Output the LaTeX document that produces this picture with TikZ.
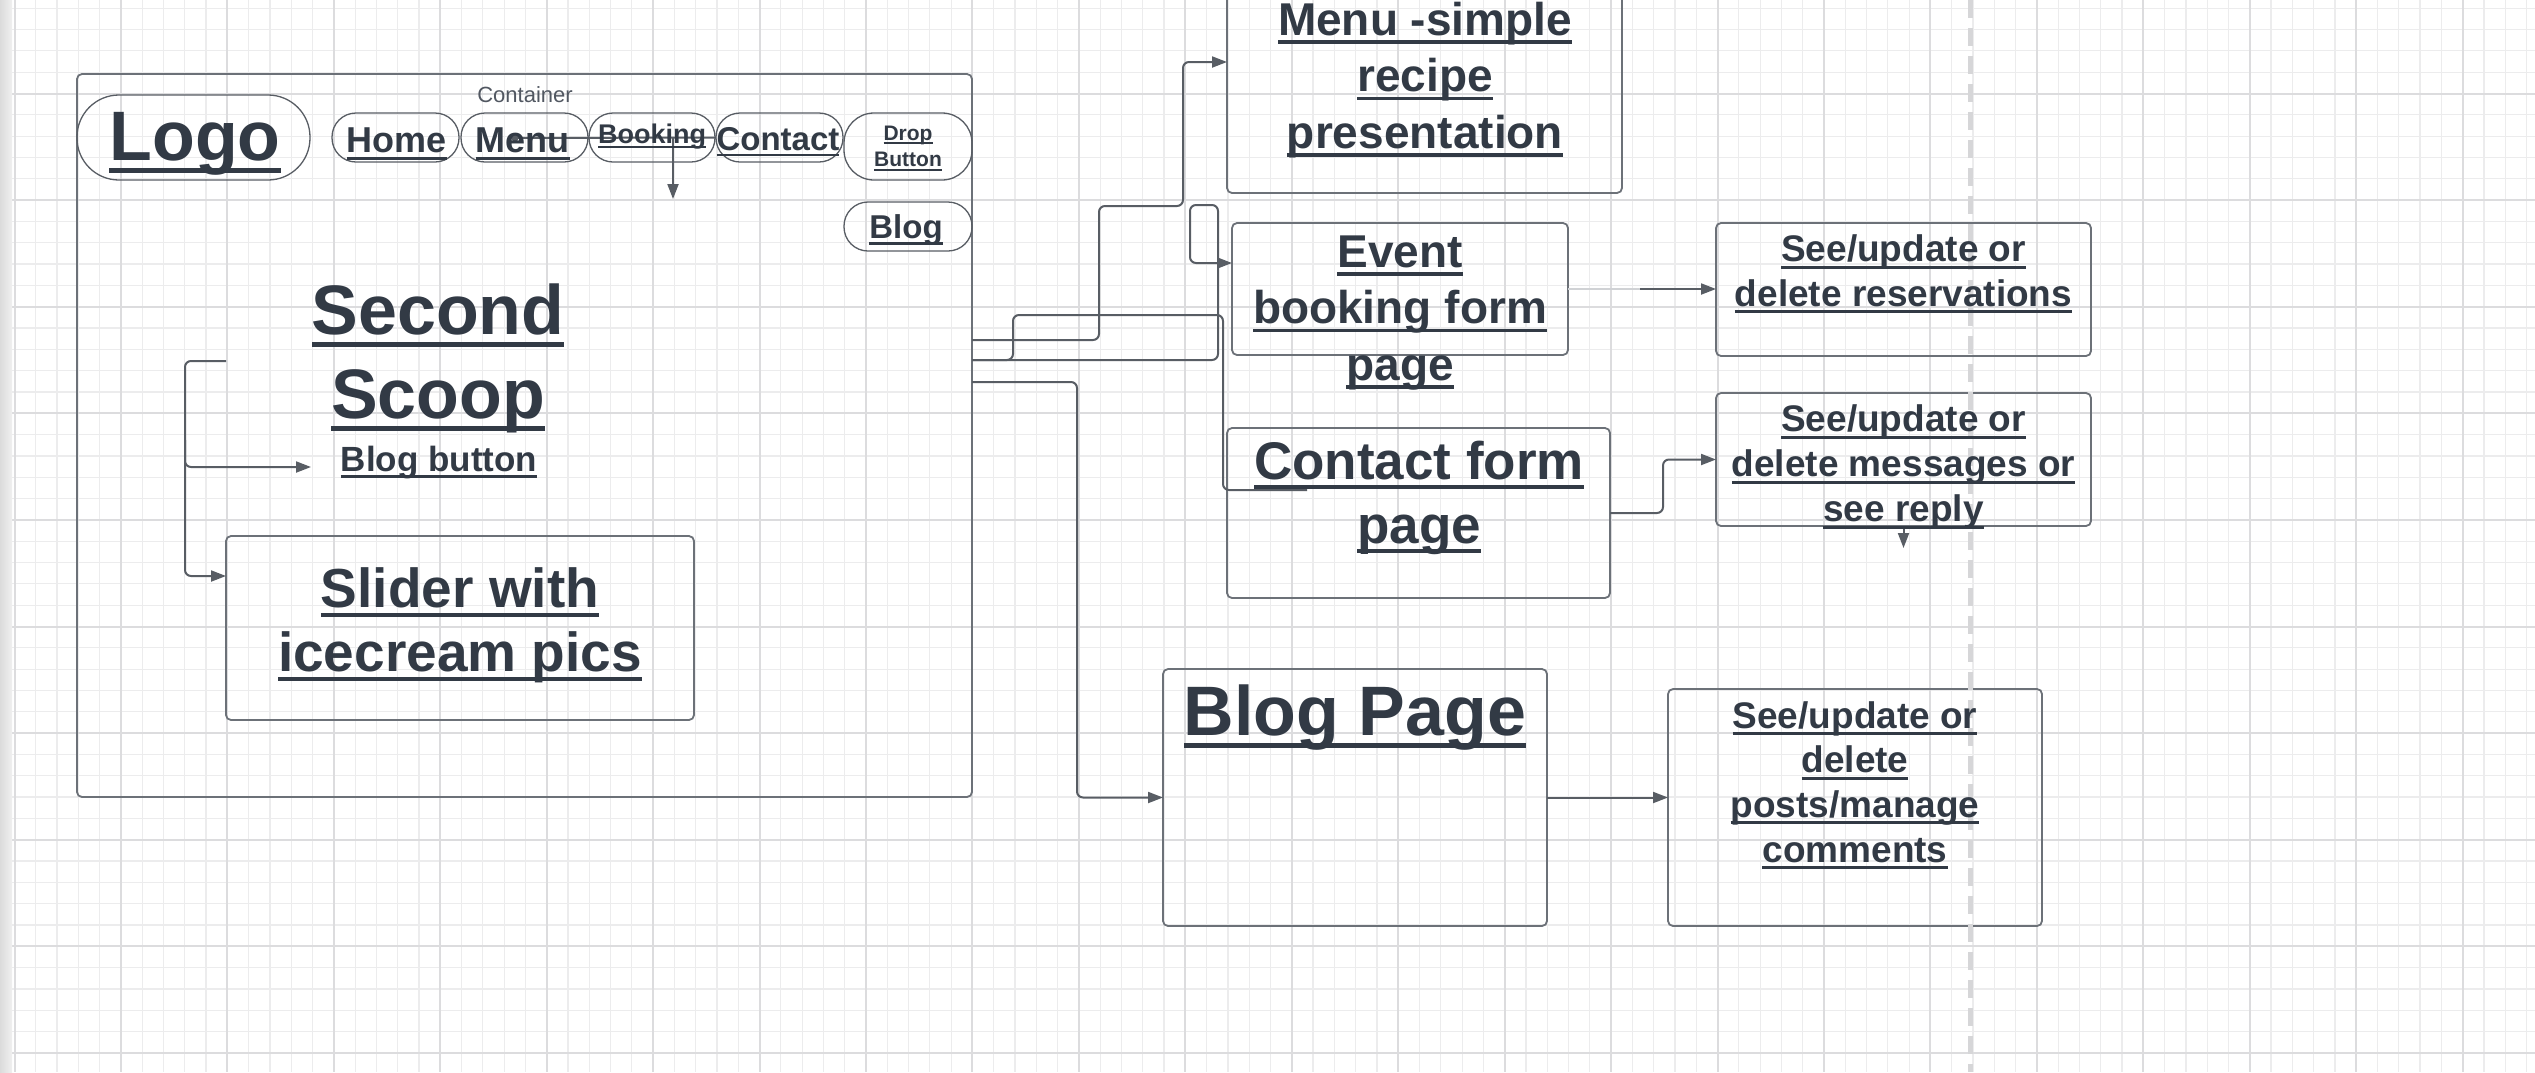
\documentclass[tikz,border=0pt]{standalone}
\usepackage{fontspec}
\setmainfont{Liberation Sans}
\usetikzlibrary{arrows.meta}
\definecolor{txt}{RGB}{50,58,69}
\definecolor{bord}{RGB}{108,113,120}
\definecolor{conn}{RGB}{88,93,100}
\definecolor{gmin}{RGB}{236,236,237}
\definecolor{gmaj}{RGB}{220,220,222}
\definecolor{dashc}{RGB}{214,214,216}
\definecolor{lightw}{RGB}{208,210,213}
\newbox\ulbox
\newcommand\myul[1]{\setbox\ulbox=\hbox{#1}\rlap{\rule[-0.19em]{\wd\ulbox}{0.08em}}\box\ulbox}
\newcommand\mlines[1]{\vtop{\halign{\hfil##\hfil\cr#1\crcr}}}
\newcommand\fs[2]{\fontsize{#1}{#2}\selectfont}
\tikzset{
  boxs/.style={draw=bord, line width=1.8pt, rounded corners=5pt, inner sep=0pt, outer sep=0pt},
  pill/.style={draw=conn, line width=1.3pt, inner sep=0pt, outer sep=0pt},
  lbl/.style={text=txt, inner sep=0pt, outer sep=0pt, anchor=base, font=\bfseries},
  wire/.style={draw=conn, line width=2pt, rounded corners=6pt},
  arr/.style={wire, -{Triangle[length=15pt,width=11pt]}},
}
\begin{document}
\begin{tikzpicture}[x=1pt,y=-1pt]
\useasboundingbox (0,0) rectangle (2535,1072);
\clip (0,0) rectangle (2535,1072);
\fill[white] (0,0) rectangle (2535,1072);
% grid
\foreach \i in {-1,...,119} \draw[gmin, line width=1.2pt] ({14.5+21.288*\i},0) -- ++(0,1072);
\foreach \j in {-5,...,46} \draw[gmin, line width=1.2pt] (0,{93.5+21.32*\j}) -- ++(2535,0);
\foreach \i in {0,...,23} \draw[gmaj, line width=2pt] ({14.5+106.44*\i},0) -- ++(0,1072);
\foreach \j in {-1,...,9} \draw[gmaj, line width=2pt] (0,{93.5+106.6*\j}) -- ++(2535,0);
\shade[left color=gray!28, right color=gray!12] (0,0) rectangle (12,1072);

% container and its parts
\node[boxs, minimum width=895pt, minimum height=723pt] (cont) at (524.5,435.5) {};
\node[lbl, font=\mdseries, text=txt!85] (contlbl) at (525,102) {\fs{22}{26}Container};
\node[pill, rounded corners=42pt, minimum width=233pt, minimum height=85pt] (logo) at (193.5,137.5) {};
\node[pill, rounded corners=24pt, minimum width=127pt, minimum height=49pt] (home) at (395.5,137.5) {};
\node[pill, rounded corners=24pt, minimum width=127pt, minimum height=49pt] (menu) at (524.5,137.5) {};
\node[pill, rounded corners=24pt, minimum width=126pt, minimum height=49pt] (book) at (652,137.5) {};
\node[pill, rounded corners=24pt, minimum width=127pt, minimum height=49pt] (contact) at (779.5,137.5) {};
\node[pill, rounded corners=30pt, minimum width=128pt, minimum height=67pt] (drop) at (908,146.5) {};
\node[pill, rounded corners=24pt, minimum width=128pt, minimum height=49pt] (blog) at (908,226.5) {};
\node[boxs, minimum width=468pt, minimum height=184pt] (slider) at (460,628) {};

% right side boxes
\node[boxs, minimum width=395pt, minimum height=233pt] (ms) at (1424.5,76.5) {};
\node[boxs, minimum width=336pt, minimum height=132pt] (evt) at (1400,289) {};
\node[boxs, minimum width=383pt, minimum height=170pt] (cf) at (1418.5,513) {};
\node[boxs, minimum width=375pt, minimum height=133pt] (res) at (1903.5,289.5) {};
\node[boxs, minimum width=375pt, minimum height=133pt] (msg) at (1903.5,459.5) {};
\node[boxs, minimum width=384pt, minimum height=257pt] (bp) at (1355,797.5) {};
\node[boxs, minimum width=374pt, minimum height=237pt] (cm) at (1855,807.5) {};

% free connector ends
\coordinate (nv1) at (515,138);
\coordinate (nv2) at (673,138);
\coordinate (nv3) at (673,199);
\coordinate (sb1) at (226,361);
\coordinate (sb2) at (311,467);
\coordinate (p2e) at (1307,490);
\coordinate (evtm) at (1640,289);
\coordinate (msgtip) at (1903.5,548);
\coordinate (dl1) at (1970,0);
\coordinate (dl2) at (1970,1072);

% connectors
\draw[wire] (nv1) -- (contact.west);
\fill[conn] (nv1) circle (3.5);
\draw[arr] (nv2) -- (nv3);
\draw[arr] (sb1) -- (185,361) -- (185,467) -- (sb2);
\draw[arr] (185,440) -- (185,576) -- (slider.west |- 0,576);
\draw[arr] (cont.east |- 0,340) -- (1099,340) -- (1099,206) -- (1183,206) -- (1183,62) -- (ms.west |- 0,62);
\draw[wire] (cont.east |- 0,360) -- (1013,360) -- (1013,315) -- (1223,315) -- (1223,490) -- (p2e);
\draw[arr] (cont.east |- 0,360) -- (1218,360) -- (1218,205) -- (1190,205) -- (1190,263) -- (evt.west |- 0,263);
\draw[arr] (cont.east |- 0,382) -- (1077,382) -- (1077,797.5) -- (bp.west);
\draw[wire, draw=lightw] (evt.east) -- (evtm);
\draw[arr] (evtm) -- (res.west |- evtm);
\draw[arr] (cf.east) -- (1663,513) -- (1663,459.5) -- (msg.west);
\draw[arr] (bp.east) -- (cm.west |- bp.east);
\draw[arr] (msg.south) -- (msgtip);

% dashed guide
\draw[dashc, line width=5pt, dash pattern=on 18pt off 10pt] (dl1) -- (dl2);

% texts
\node[lbl] (logot) at (195,160) {\fs{70}{84}\myul{Logo}};
\node[lbl] (homet) at (397,152.7) {\fs{36}{42}\myul{Home}};
\node[lbl] (menut) at (522.5,152.7) {\fs{36}{42}\myul{Menu}};
\node[lbl] (bookt) at (652,143.3) {\fs{27}{32}\myul{Booking}};
\node[lbl] (contactt) at (778,150) {\fs{33}{40}\myul{Contact}};
\node[lbl] (dropt) at (908,140) {\fs{21}{26.7}\mlines{\myul{Drop}\cr\myul{Button}}};
\node[lbl] (blogt) at (906,238.3) {\fs{33}{40}\myul{Blog}};
\node[lbl] (scoop) at (438,334) {\fs{70}{84}\mlines{\myul{Second}\cr\myul{Scoop}}};
\node[lbl] (bbtn) at (439,471) {\fs{35}{40}\myul{Blog button}};
\node[lbl] (slidert) at (460,607) {\fs{55}{64}\mlines{\myul{Slider with}\cr\myul{icecream pics}}};
\node[lbl] (mst) at (1425,35) {\fs{46}{56.5}\mlines{\myul{Menu -simple}\cr\myul{recipe}\cr\myul{presentation}}};
\node[lbl] (evtt) at (1400,267) {\fs{46}{56.5}\mlines{\myul{Event}\cr\myul{booking form}\cr\myul{page}}};
\node[lbl] (cft) at (1419,479) {\fs{53}{64}\mlines{\myul{Contact form}\cr\myul{page}}};
\node[lbl] (rest) at (1903.5,261.7) {\fs{37}{44.5}\mlines{\myul{See/update or}\cr\myul{delete reservations}}};
\node[lbl] (msgt) at (1903.5,431.7) {\fs{37}{45}\mlines{\myul{See/update or}\cr\myul{delete messages or}\cr\myul{see reply}}};
\node[lbl] (bpt) at (1355,735) {\fs{70}{84}\myul{Blog Page}};
\node[lbl] (cmt) at (1855,728) {\fs{37}{44.7}\mlines{\myul{See/update or}\cr\myul{delete}\cr\myul{posts/manage}\cr\myul{comments}}};
\end{tikzpicture}
\end{document}
